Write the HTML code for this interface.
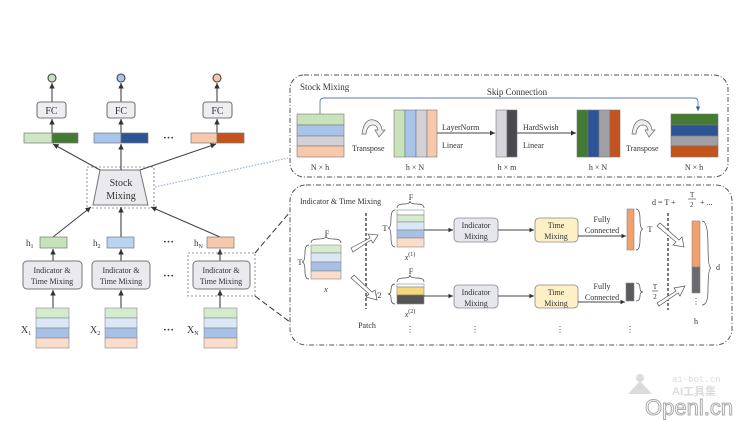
<!DOCTYPE html>
<html><head><meta charset="utf-8"><style>
html,body{margin:0;padding:0;background:#fff;width:750px;height:421px;overflow:hidden}
svg{display:block}
text{font-family:"Liberation Serif",serif;fill:#333}
.s{font-size:9px}
.m{font-size:8px}
</style></head><body>
<svg width="750" height="421" viewBox="0 0 750 421" xmlns="http://www.w3.org/2000/svg">
<defs>
<marker id="a" markerWidth="6" markerHeight="6" refX="5" refY="3" orient="auto"><path d="M0,0.5 L5,3 L0,5.5z" fill="#333"/></marker>
<marker id="b" markerWidth="6" markerHeight="6" refX="5" refY="3" orient="auto"><path d="M0,0.5 L5,3 L0,5.5z" fill="#3a5ea8"/></marker>
</defs>
<g stroke="#444" stroke-width="1.1" fill="none">
<circle cx="52" cy="78" r="4" fill="#c8e0bd"/>
<circle cx="121" cy="78" r="4" fill="#a9c4ea"/>
<circle cx="217" cy="78" r="4" fill="#f6c6ad"/>
<line x1="52" y1="102" x2="52" y2="83" marker-end="url(#a)"/>
<line x1="121" y1="102" x2="121" y2="83" marker-end="url(#a)"/>
<line x1="217" y1="102" x2="217" y2="83" marker-end="url(#a)"/>
<rect x="37" y="102" width="29" height="16" rx="3" fill="#eeeef2" stroke="#777"/>
<rect x="107" y="102" width="28" height="16" rx="3" fill="#eeeef2" stroke="#777"/>
<rect x="203" y="102" width="29" height="16" rx="3" fill="#eeeef2" stroke="#777"/>
<line x1="52" y1="133" x2="52" y2="119" marker-end="url(#a)"/>
<line x1="121" y1="133" x2="121" y2="119" marker-end="url(#a)"/>
<line x1="217" y1="133" x2="217" y2="119" marker-end="url(#a)"/>
</g>
<g style="font-size:10px" text-anchor="middle">
<text x="51.5" y="114">FC</text><text x="121" y="114">FC</text><text x="217.5" y="114">FC</text>
</g>
<g stroke="#777" stroke-width="0.7">
<rect x="24" y="133" width="28" height="10" fill="#cfe6c4"/><rect x="52" y="133" width="26" height="10" fill="#447a34"/>
<rect x="94" y="133" width="27" height="10" fill="#a9c4ea"/><rect x="121" y="133" width="27" height="10" fill="#2c5496"/>
<rect x="191" y="133" width="26" height="10" fill="#f7c8ac"/><rect x="217" y="133" width="27" height="10" fill="#c4531c"/>
</g>
<text x="163" y="141" style="font-size:11px;font-weight:bold">···</text>
<text x="163" y="245" style="font-size:11px;font-weight:bold">···</text>
<text x="163" y="279" style="font-size:11px;font-weight:bold">···</text>
<text x="163" y="333" style="font-size:11px;font-weight:bold">···</text>
<rect x="87" y="167" width="67" height="41" fill="none" stroke="#777" stroke-dasharray="2,2" stroke-width="0.8"/>
<path d="M100,170 L140,170 L148,205 L93,205z" fill="#e9e9ee" stroke="#777"/>
<text x="121" y="186" text-anchor="middle" style="font-size:10px">Stock</text>
<text x="121" y="199" text-anchor="middle" style="font-size:10px">Mixing</text>
<g stroke="#444" stroke-width="1.1" fill="none">
<line x1="100" y1="170" x2="53" y2="144" marker-end="url(#a)"/>
<line x1="121" y1="170" x2="121" y2="144" marker-end="url(#a)"/>
<line x1="140" y1="170" x2="216" y2="144" marker-end="url(#a)"/>
<line x1="53" y1="237" x2="91" y2="207" marker-end="url(#a)"/>
<line x1="121" y1="237" x2="121" y2="207" marker-end="url(#a)"/>
<line x1="220" y1="237" x2="151" y2="207" marker-end="url(#a)"/>
<line x1="53" y1="261" x2="53" y2="249" marker-end="url(#a)"/>
<line x1="121" y1="261" x2="121" y2="249" marker-end="url(#a)"/>
<line x1="220" y1="261" x2="220" y2="249" marker-end="url(#a)"/>
<line x1="53" y1="308" x2="53" y2="290" marker-end="url(#a)"/>
<line x1="121" y1="308" x2="121" y2="290" marker-end="url(#a)"/>
<line x1="220" y1="308" x2="220" y2="290" marker-end="url(#a)"/>
</g>
<g stroke="#777" stroke-width="0.7">
<rect x="40" y="237" width="27" height="11" fill="#c6e2b8"/>
<rect x="107" y="237" width="27" height="11" fill="#b9d3f0"/>
<rect x="207" y="237" width="27" height="11" fill="#f7c8ac"/>
</g>
<text x="26" y="246" class="s">h<tspan style="font-size:6px" dy="2">1</tspan></text>
<text x="93" y="246" class="s">h<tspan style="font-size:6px" dy="2">2</tspan></text>
<text x="194" y="246" class="s">h<tspan style="font-size:6px" dy="2">N</tspan></text>
<g fill="#e9e9ee" stroke="#777">
<rect x="23" y="261" width="59" height="28" rx="4"/>
<rect x="92" y="261" width="58" height="28" rx="4"/>
<rect x="193" y="261" width="57" height="28" rx="4"/>
</g>
<rect x="188" y="253" width="67" height="43" fill="none" stroke="#777" stroke-dasharray="2,2" stroke-width="0.8"/>
<g class="m" text-anchor="middle">
<text x="52" y="273">Indicator &amp;</text><text x="52" y="284">Time Mixing</text>
<text x="121" y="273">Indicator &amp;</text><text x="121" y="284">Time Mixing</text>
<text x="221" y="273">Indicator &amp;</text><text x="221" y="284">Time Mixing</text>
</g>
<g stroke="#888" stroke-width="0.6">
<rect x="36" y="308" width="33" height="10" fill="#d6ebcd"/><rect x="36" y="318" width="33" height="10" fill="#dae8f6"/><rect x="36" y="328" width="33" height="10" fill="#a9c0e6"/><rect x="36" y="338" width="33" height="10" fill="#fadccb"/>
<rect x="105" y="308" width="32" height="10" fill="#d6ebcd"/><rect x="105" y="318" width="32" height="10" fill="#dae8f6"/><rect x="105" y="328" width="32" height="10" fill="#a9c0e6"/><rect x="105" y="338" width="32" height="10" fill="#fadccb"/>
<rect x="204" y="308" width="33" height="10" fill="#d6ebcd"/><rect x="204" y="318" width="33" height="10" fill="#dae8f6"/><rect x="204" y="328" width="33" height="10" fill="#a9c0e6"/><rect x="204" y="338" width="33" height="10" fill="#fadccb"/>
</g>
<text x="21" y="333" style="font-size:10px">X<tspan style="font-size:6px" dy="2">1</tspan></text>
<text x="90" y="333" style="font-size:10px">X<tspan style="font-size:6px" dy="2">2</tspan></text>
<text x="187" y="333" style="font-size:10px">X<tspan style="font-size:6px" dy="2">N</tspan></text>
<line x1="155" y1="187" x2="288" y2="158" stroke="#9bb3d8" stroke-width="1.2" stroke-dasharray="1.5,1.5"/>
<line x1="255" y1="253" x2="290" y2="212" stroke="#333" stroke-width="1" stroke-dasharray="6,3"/>
<line x1="255" y1="296" x2="290" y2="322" stroke="#333" stroke-width="1" stroke-dasharray="6,3"/>

<rect x="290" y="75" width="438" height="102" rx="14" fill="none" stroke="#555" stroke-width="1" stroke-dasharray="5,2,1,2"/>
<text x="300" y="90" class="s">Stock Mixing</text>
<path d="M320,114 V102 Q320,98 324,98 H694 Q698,98 698,102 V111" fill="none" stroke="#5a7ab8" stroke-width="0.9" marker-end="url(#b)"/>
<text x="517" y="95" text-anchor="middle" class="s">Skip Connection</text>
<g stroke="#777" stroke-width="0.6">
<rect x="297" y="114" width="47" height="11" fill="#c8e3ba"/><rect x="297" y="125" width="47" height="11" fill="#a9c4ea"/><rect x="297" y="136" width="47" height="10" fill="#d2d2d6"/><rect x="297" y="146" width="47" height="11" fill="#f7c8ac"/>
<rect x="394" y="110" width="11" height="47" fill="#c8e3ba"/><rect x="405" y="110" width="11" height="47" fill="#a9c4ea"/><rect x="416" y="110" width="11" height="47" fill="#d2d2d6"/><rect x="427" y="110" width="10" height="47" fill="#f7c8ac"/>
<rect x="496" y="110" width="11" height="47" fill="#d6d6dc"/><rect x="507" y="110" width="10" height="47" fill="#4a4a4e"/>
<rect x="577" y="110" width="11" height="47" fill="#447a34"/><rect x="588" y="110" width="11" height="47" fill="#2c5496"/><rect x="599" y="110" width="11" height="47" fill="#a0a0a4"/><rect x="610" y="110" width="10" height="47" fill="#c4531c"/>
<rect x="671" y="114" width="47" height="11" fill="#447a34"/><rect x="671" y="125" width="47" height="11" fill="#2c5496"/><rect x="671" y="136" width="47" height="10" fill="#a0a0a4"/><rect x="671" y="146" width="47" height="11" fill="#c4531c"/>
</g>
<g stroke="#444" stroke-width="1" fill="none">
<line x1="437" y1="133" x2="495" y2="133" marker-end="url(#a)"/>
<line x1="517" y1="133" x2="576" y2="133" marker-end="url(#a)"/>
</g>
<path d="M362,134 Q364,118 374,120 Q381,122 382,130 L385,130 L379,137 L375,130 L378,130 Q377,125 373,125 Q367,125 366,134z" fill="#eee" stroke="#666" stroke-width="0.7"/>
<path d="M632,134 Q634,118 644,120 Q651,122 652,130 L655,130 L649,137 L645,130 L648,130 Q647,125 643,125 Q637,125 636,134z" fill="#eee" stroke="#666" stroke-width="0.7"/>
<g class="m">
<text x="352" y="151">Transpose</text>
<text x="626" y="151">Transpose</text>
<text x="442" y="130">LayerNorm</text><text x="442" y="148">Linear</text>
<text x="523" y="130">HardSwish</text><text x="523" y="148">Linear</text>
</g>
<g class="m" text-anchor="middle">
<text x="320" y="170">N × h</text><text x="415" y="170">h × N</text><text x="507" y="170">h × m</text><text x="598" y="170">h × N</text><text x="694" y="170">N × h</text>
</g>

<rect x="290" y="185" width="442" height="160" rx="16" fill="none" stroke="#555" stroke-width="1" stroke-dasharray="5,2,1,2"/>
<text x="300" y="204" class="m">Indicator &amp; Time Mixing</text>
<g stroke="#888" stroke-width="0.6">
<rect x="311" y="245" width="30" height="8" fill="#d6ebcd"/><rect x="311" y="253" width="30" height="9" fill="#dae8f6"/><rect x="311" y="262" width="30" height="9" fill="#a9c0e6"/><rect x="311" y="271" width="30" height="8" fill="#fadccb"/>
<rect x="397" y="210" width="27" height="5" fill="#fff"/><rect x="397" y="215" width="27" height="7" fill="#d6ebcd"/><rect x="397" y="222" width="27" height="8" fill="#dae8f6"/><rect x="397" y="230" width="27" height="8" fill="#a9c0e6"/><rect x="397" y="238" width="27" height="9" fill="#fadccb"/>
<rect x="397" y="284" width="27" height="3" fill="#fff"/><rect x="397" y="287" width="27" height="8" fill="#f6d77a"/><rect x="397" y="295" width="27" height="9" fill="#555"/>
<rect x="627" y="209" width="7" height="41" fill="#f2a06c"/>
<rect x="626" y="283" width="8" height="18" fill="#5a5a5e"/>
<rect x="692" y="221" width="8" height="46" fill="#f2a06c"/><rect x="692" y="267" width="8" height="26" fill="#6a6a6e"/>
</g>
<g fill="none" stroke="#444" stroke-width="0.7">
<path d="M311,243 Q311,239 318,239 Q326,239 326,236 Q326,239 334,239 Q341,239 341,243"/>
<path d="M397,208 Q397,204 404,204 Q410,204 410,201 Q410,204 417,204 Q424,204 424,208"/>
<path d="M397,282 Q397,278 404,278 Q410,278 410,275 Q410,278 417,278 Q424,278 424,282"/>
<path d="M309,245 Q305,245 305,252 Q305,262 302,262 Q305,262 305,272 Q305,279 309,279"/>
<path d="M395,210 Q391,210 391,219 Q391,228 388,228 Q391,228 391,238 Q391,247 395,247"/>
<path d="M395,284 Q391,284 391,290 Q391,294 388,294 Q391,294 391,298 Q391,304 395,304"/>
<path d="M636,209 Q640,209 640,219 Q640,229 643,229 Q640,229 640,240 Q640,250 636,250"/>
<path d="M636,283 Q640,283 640,288 Q640,292 643,292 Q640,292 640,296 Q640,301 636,301"/>
<path d="M702,221 Q708,221 708,245 Q708,268 711,268 Q708,268 708,290 Q708,305 702,305"/>
</g>
<g class="m" text-anchor="middle">
<text x="327" y="236">F</text><text x="411" y="200">F</text><text x="411" y="274">F</text>
<text x="300" y="265">T</text><text x="385" y="231">T</text><text x="376" y="298">T/2</text>
<text x="326" y="292" font-style="italic">x</text>
<text x="410" y="260" font-style="italic">x<tspan style="font-size:6px;font-style:normal" dy="-4">(1)</tspan></text>
<text x="410" y="317" font-style="italic">x<tspan style="font-size:6px;font-style:normal" dy="-4">(2)</tspan></text>
<text x="367" y="328">Patch</text>
<text x="650" y="232">T</text>
<text x="655" y="289" style="font-size:7px">T</text><line x1="652" y1="291" x2="658" y2="291" stroke="#333" stroke-width="0.6"/><text x="655" y="299" style="font-size:7px">2</text>
<text x="718" y="270">d</text><text x="696" y="324">h</text>
<text x="696" y="304">⋮</text>
<text x="410" y="332">⋮</text><text x="475" y="332">⋮</text><text x="560" y="332">⋮</text><text x="630" y="332">⋮</text>
<text x="602" y="222">Fully</text><text x="602" y="233">Connected</text>
<text x="602" y="289">Fully</text><text x="602" y="300">Connected</text>
</g>
<text x="652" y="205" class="m">d = T +</text>
<text x="690" y="197" style="font-size:7px">T</text><line x1="688" y1="199" x2="696" y2="199" stroke="#333" stroke-width="0.6"/><text x="690" y="207" style="font-size:7px">2</text>
<text x="700" y="205" class="m">+ ...</text>
<line x1="366" y1="213" x2="366" y2="309" stroke="#222" stroke-width="1.2" stroke-dasharray="3,2"/>
<line x1="668" y1="213" x2="668" y2="310" stroke="#222" stroke-width="1.2" stroke-dasharray="3,2"/>
<g stroke="#888" stroke-width="0.8">
<rect x="454" y="218" width="44" height="24" rx="4" fill="#e6e6ee"/>
<rect x="454" y="285" width="44" height="23" rx="4" fill="#e6e6ee"/>
<rect x="535" y="218" width="43" height="24" rx="4" fill="#fdefc6"/>
<rect x="535" y="285" width="43" height="23" rx="4" fill="#fdefc6"/>
</g>
<g class="m" text-anchor="middle">
<text x="476" y="228">Indicator</text><text x="476" y="239">Mixing</text>
<text x="476" y="295">Indicator</text><text x="476" y="306">Mixing</text>
<text x="556" y="228">Time</text><text x="556" y="239">Mixing</text>
<text x="556" y="295">Time</text><text x="556" y="306">Mixing</text>
</g>
<g stroke="#444" stroke-width="0.9" fill="none">
<line x1="424" y1="230" x2="453" y2="230" marker-end="url(#a)"/>
<line x1="498" y1="230" x2="534" y2="230" marker-end="url(#a)"/>
<line x1="578" y1="236" x2="626" y2="236" marker-end="url(#a)"/>
<line x1="424" y1="296" x2="453" y2="296" marker-end="url(#a)"/>
<line x1="498" y1="296" x2="534" y2="296" marker-end="url(#a)"/>
<line x1="578" y1="302" x2="625" y2="302" marker-end="url(#a)"/>
</g>
<g fill="#fff" stroke="#555" stroke-width="0.7">
<path d="M351,248 L370,238 L368,234 L378,235 L373,243 L371,240 L353,252z"/>
<path d="M351,278 L369,294 L366,297 L377,300 L375,290 L372,292 L354,275z"/>
<path d="M657,226 L676,242 L673,245 L684,247 L682,237 L679,240 L660,223z"/>
<path d="M657,303 L676,291 L674,288 L685,286 L680,296 L678,293 L659,306z"/>
</g>
<g opacity="0.35">
<text x="672" y="382" style="font-family:'Liberation Mono',monospace;font-size:9px;fill:#999">ai-bot.cn</text>
<text x="672" y="395" style="font-family:'Liberation Sans','Noto Sans CJK SC',sans-serif;font-size:11px;font-weight:bold;fill:#999">AI工具集</text>
<circle cx="640" cy="378" r="4" fill="#999"/>
<path d="M628,394 L640,381 L652,394z" fill="#999"/>
</g>
<text x="645" y="415" style="font-family:'Liberation Sans',sans-serif;font-size:22px;fill:#fff;stroke:#aaa;stroke-width:1">Openl.cn</text>
</svg>
</body></html>
